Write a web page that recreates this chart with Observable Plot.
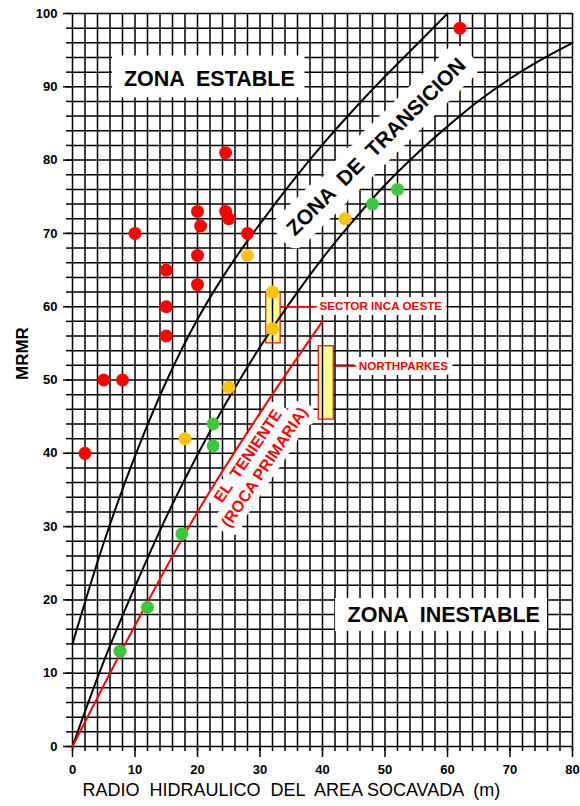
<!DOCTYPE html>
<html><head><meta charset="utf-8">
<script src="https://cdn.jsdelivr.net/npm/d3@7"></script>
<script src="https://cdn.jsdelivr.net/npm/@observablehq/plot@0.6"></script>
<style>
html,body{margin:0;padding:0;background:#fff;}
svg text{white-space:pre;}
</style>
</head><body><div id="chart"></div>
<script>
// ---- axis ticks ----
const xTicks = [0,10,20,30,40,50,60,70,80];
const yTicks = [0,10,20,30,40,50,60,70,80,90,100];
const xGrid = d3.range(0, 81, 2);
const yGrid = d3.range(0, 101, 2);

// ---- boundary curves ----
const upperX = [0,5,10,15,20,25,30,35,40,45,50,55,60];
const upperY = [14,27.8,39.6,49.8,58.3,65.3,71.3,76.9,82.1,86.9,91.4,95.7,100];
const lowerX = [0,5,10,15,20,25,30,35,40,45,50,55,60,65,70,75,80];
const lowerY = [0,11.6,21.8,31.3,39.8,47.5,54.5,60.8,66.6,71.8,76.6,80.8,84.6,88.1,91.1,93.7,96];
const tenX = [0,10,20,30,40];
const tenY = [0,16.5,32,45.5,58];

// ---- case histories ----
const redX = [2,5,8,10,15,15,15,20,20,20,20.5,24.5,24.5,25,28,62];
const redY = [40,50,50,70,65,60,56,73,67,63,71,81,73,72,70,98];
const yellowX = [18,25,28,32,32,43.6];
const yellowY = [42,49,67,62,57,72];
const greenX = [7.6,12,17.5,22.5,22.5,48,52];
const greenY = [13,19,29,44,41,74,76];

// ---- mine ranges (boxes) ----
const boxName = ["SECTOR INCA OESTE","NORTHPARKES"];
const boxX1 = [31,39.4], boxX2 = [33.3,41.8];
const boxY1 = [55,44.6], boxY2 = [62,54.6];

// ---- annotations ----
const zoneBoxes = [
  {text:"ZONA  ESTABLE", x1:6.4, x2:37.2, y1:88.5, y2:94.2, x:21.9, y:91.1},
  {text:"ZONA  INESTABLE", x1:42.1, x2:76, y1:15.7, y2:20.2, x:59.4, y:17.9}
];
const transLabel = [{text:"ZONA  DE  TRANSICION", x:48.6, y:81.8}];
const tenLabel = [{text:"EL  TENIENTE\n(ROCA PRIMARIA)", x:29.25, y:38.96}];
const boxLabels = [
  {text:boxName[0], x:39.5, y:60, lx1:33.3, lx2:39.2},
  {text:boxName[1], x:45.8, y:51.9, lx1:41.8, lx2:45.5}
];
const xLabel = "RADIO  HIDRAULICO  DEL  AREA SOCAVADA  (m)";
const yLabel = "MRMR";

const toPts = (xs, ys) => xs.map((x, i) => ({x, y: ys[i]}));
const boxes = boxX1.map((x1, i) => ({x1, x2: boxX2[i], y1: boxY1[i], y2: boxY2[i]}));

const chart = Plot.plot({
  width: 580, height: 806,
  marginLeft: 72, marginRight: 8, marginTop: 13, marginBottom: 60,
  x: {domain: [0, 80]},
  y: {domain: [0, 100]},
  style: {fontFamily: "'Liberation Sans', Arial, sans-serif", background: "#fff", color: "#000"},
  marks: [
    Plot.ruleY(yGrid, {x1: 0, x2: 80, stroke: "#000", strokeWidth: 1.5}),
    Plot.rect(boxes, {x1: "x1", x2: "x2", y1: "y1", y2: "y2", fill: "#ffff8c"}),
    Plot.ruleX(xGrid, {y1: 0, y2: 100, stroke: "#000", strokeWidth: 1.5}),
    Plot.rect(boxes, {x1: "x1", x2: "x2", y1: "y1", y2: "y2", fill: "none", stroke: "red", strokeWidth: 1.2}),
    Plot.axisX(xGrid, {tickSize: 5, tickFormat: () => "", label: null, strokeWidth: 1.5}),
    Plot.axisX(xTicks, {tickSize: 11, tickPadding: 7, label: null, fontSize: 13, fontWeight: "bold", strokeWidth: 1.5}),
    Plot.axisY(yGrid, {tickSize: 6, tickFormat: () => "", label: null, strokeWidth: 1.5}),
    Plot.axisY(yTicks, {tickSize: 9, tickPadding: 6, label: null, fontSize: 13, fontWeight: "bold", strokeWidth: 1.5}),
    // white clearings behind labels
    Plot.rect(zoneBoxes, {x1: "x1", x2: "x2", y1: "y1", y2: "y2", fill: "#fff"}),
    Plot.text(transLabel, {x: "x", y: "y", text: "text", rotate: -44.7, fontSize: 21, fontWeight: "bold", fill: "#fff", stroke: "#fff", strokeWidth: 24, strokeLinejoin: "round"}),
    Plot.text(tenLabel, {x: "x", y: "y", text: "text", rotate: -56, fontSize: 16, lineHeight: 1.25, fontWeight: "bold", fill: "#fff", stroke: "#fff", strokeWidth: 14, strokeLinejoin: "round"}),
    Plot.text(boxLabels, {x: "x", y: "y", text: "text", textAnchor: "start", fontSize: 11.7, fontWeight: "bold", fill: "#fff", stroke: "#fff", strokeWidth: 10, strokeLinejoin: "round"}),
    // curves
    Plot.line(toPts(upperX, upperY), {x: "x", y: "y", curve: "catmull-rom", stroke: "#000", strokeWidth: 2}),
    Plot.line(toPts(lowerX, lowerY), {x: "x", y: "y", curve: "catmull-rom", stroke: "#000", strokeWidth: 2}),
    Plot.line(toPts(tenX, tenY), {x: "x", y: "y", curve: "catmull-rom", stroke: "red", strokeWidth: 2}),
    Plot.ruleY(boxLabels, {y: "y", x1: "lx1", x2: "lx2", stroke: "red", strokeWidth: 1.5}),
    // dots
    Plot.dot(toPts(redX, redY), {x: "x", y: "y", r: 6.5, fill: "#ff0000"}),
    Plot.dot(toPts(yellowX, yellowY), {x: "x", y: "y", r: 6.5, fill: "#ffc20e"}),
    Plot.dot(toPts(greenX, greenY), {x: "x", y: "y", r: 6.5, fill: "#3cc83c"}),
    // texts
    Plot.text(zoneBoxes, {x: "x", y: "y", text: "text", fontSize: 21.5, fontWeight: "bold", fill: "#000"}),
    Plot.text(transLabel, {x: "x", y: "y", text: "text", rotate: -44.7, fontSize: 21, fontWeight: "bold", fill: "#000"}),
    Plot.text(tenLabel, {x: "x", y: "y", text: "text", rotate: -56, fontSize: 16, lineHeight: 1.25, fontWeight: "bold", fill: "red"}),
    Plot.text(boxLabels, {x: "x", y: "y", text: "text", textAnchor: "start", fontSize: 11.7, fontWeight: "bold", fill: "red"}),
    Plot.text([xLabel], {text: d => d, frameAnchor: "bottom-left", textAnchor: "start", dx: 10, dy: 49, fontSize: 18, fill: "#000"}),
    Plot.text([yLabel], {text: d => d, frameAnchor: "left", dx: -50, rotate: -90, fontSize: 17, fontWeight: "bold", fill: "#000"})
  ]
});
document.getElementById("chart").append(chart);
</script>
</body></html>
